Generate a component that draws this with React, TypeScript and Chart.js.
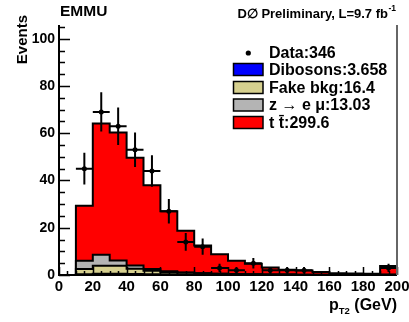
import React, { useEffect, useRef } from 'react';
import { Chart, registerables } from 'chart.js';

Chart.register(...registerables);

// ---- data ----
const binEdges = [10, 20, 30, 40, 50, 60, 70, 80, 90, 100, 110, 120, 130, 140, 150, 160, 170, 180, 190, 200];
const dibosons = [0.3, 0.5, 0.5, 0.45, 0.35, 0.3, 0.25, 0.2, 0.15, 0.12, 0.1, 0.08, 0.07, 0.05, 0.04, 0.03, 0.03, 0.02, 0.12];
const fakeBkg = [2.2, 3.4, 3.4, 2.2, 1.5, 1.0, 0.7, 0.5, 0.4, 0.3, 0.2, 0.15, 0.1, 0.1, 0.08, 0.06, 0.05, 0.05, 0.01];
const zToEmu = [3.5, 4.7, 2.2, 1.4, 0.7, 0.3, 0.1, 0.05, 0.03, 0.02, 0.01, 0.01, 0, 0, 0, 0, 0, 0, 0.01];
const ttbar = [23.3, 55.5, 54.2, 45.6, 35.4, 25.4, 17.7, 11.7, 8.2, 5.6, 4.4, 2.9, 2.0, 1.8, 1.1, 0.7, 0.6, 0.5, 3.7];
const dataCounts = [45, 69, 63, 53, 44, 27, 14, 12, 3, 2, 5, 2, 2, 2, 0, 0, 0, 0, 3];
const xTickValues = [0, 20, 40, 60, 80, 100, 120, 140, 160, 180, 200];
const yTickValues = [0, 20, 40, 60, 80, 100];
const legendLabels = ['Data:346', 'Dibosons:3.658', 'Fake bkg:16.4', 'z \u2192 e \u03bc:13.03', 't t\u0304:299.6'];
const channelTitle = 'EMMU';
const expTitle = 'D\u2205 Preliminary, L=9.7 fb';
const expTitleSup = '-1';
const yTitle = 'Events';

// ---- styles ----
const FONT = '"Liberation Sans", Arial, Helvetica, sans-serif';
const COLORS = { diboson: '#0000ff', fake: '#d6d08f', z: '#b4b4b4', tt: '#ff0000' };
const X_MIN = 0, X_MAX = 200, Y_MIN = 0, Y_MAX = 105.8;

function cumulative(...series: number[][]): number[] {
  return series[0].map((_, i) => series.reduce((s, arr) => s + arr[i], 0));
}

function stepPoints(vals: number[]) {
  const pts: { x: number; y: number }[] = [{ x: binEdges[0], y: 0 }];
  vals.forEach((v, i) => {
    pts.push({ x: binEdges[i], y: v });
    pts.push({ x: binEdges[i + 1], y: v });
  });
  pts.push({ x: binEdges[binEdges.length - 1], y: 0 });
  return pts;
}

const centers = dataCounts.map((_, i) => (binEdges[i] + binEdges[i + 1]) / 2);

const decorPlugin = {
  id: 'decor',
  afterDatasetsDraw(chart: any) {
    const { ctx, chartArea } = chart;
    const xs = chart.scales.x;
    const ys = chart.scales.y;
    ctx.save();
    // error bars
    ctx.strokeStyle = '#000';
    ctx.lineWidth = 2;
    dataCounts.forEach((n, i) => {
      if (n <= 0) return;
      const err = Math.sqrt(n);
      const px = xs.getPixelForValue(centers[i]);
      const py = ys.getPixelForValue(n);
      ctx.beginPath();
      ctx.moveTo(px, ys.getPixelForValue(Math.max(0, n - err)));
      ctx.lineTo(px, ys.getPixelForValue(n + err));
      ctx.moveTo(xs.getPixelForValue(binEdges[i]), py);
      ctx.lineTo(xs.getPixelForValue(binEdges[i + 1]), py);
      ctx.stroke();
    });
    // axis ticks (inward)
    ctx.strokeStyle = '#000';
    ctx.lineWidth = 1.5;
    ctx.beginPath();
    for (let v = Y_MIN; v <= Y_MAX; v += 5) {
      const py = Math.round(ys.getPixelForValue(v)) + 0.5;
      const len = v % 20 === 0 ? 11 : 6;
      ctx.moveTo(chartArea.left, py);
      ctx.lineTo(chartArea.left + len, py);
    }
    for (let v = X_MIN; v <= X_MAX; v += 5) {
      const px = Math.round(xs.getPixelForValue(v)) + 0.5;
      const len = v % 20 === 0 ? 8 : 4;
      ctx.moveTo(px, chartArea.bottom);
      ctx.lineTo(px, chartArea.bottom - len);
    }
    ctx.stroke();
    // frame
    ctx.lineWidth = 2;
    ctx.beginPath();
    ctx.moveTo(chartArea.left, chartArea.top);
    ctx.lineTo(chartArea.left, chartArea.bottom);
    ctx.lineTo(chartArea.right, chartArea.bottom);
    ctx.stroke();
    ctx.strokeStyle = '#666';
    ctx.beginPath();
    ctx.moveTo(chartArea.right, chartArea.top);
    ctx.lineTo(chartArea.right, chartArea.bottom);
    ctx.stroke();
    ctx.restore();
  },
  afterDraw(chart: any) {
    const { ctx, chartArea } = chart;
    ctx.save();
    ctx.fillStyle = '#000';
    ctx.textBaseline = 'alphabetic';
    // titles
    ctx.font = `bold 15.5px ${FONT}`;
    ctx.textAlign = 'left';
    ctx.fillText(channelTitle, 60, 15.5);
    ctx.font = `bold 8.5px ${FONT}`;
    const supW = ctx.measureText(expTitleSup).width;
    ctx.textAlign = 'left';
    ctx.fillText(expTitleSup, 396 - supW, 11);
    ctx.font = `bold 13px ${FONT}`;
    ctx.textAlign = 'right';
    ctx.fillText(expTitle, 396 - supW - 0.5, 17.5);

    // y title
    ctx.save();
    ctx.font = `bold 15px ${FONT}`;
    ctx.translate(26.5, 15);
    ctx.rotate(-Math.PI / 2);
    ctx.textAlign = 'right';
    ctx.fillText(yTitle, 0, 0);
    ctx.restore();

    // x title p_T2 (GeV)
    ctx.textAlign = 'left';
    const mainFont = `bold 16px ${FONT}`;
    const subFont = `bold 9.5px ${FONT}`;
    ctx.font = mainFont;
    const wp = ctx.measureText('p').width;
    const wrest = ctx.measureText(' (GeV)').width;
    ctx.font = subFont;
    const wsub = ctx.measureText('T2').width;
    const x0 = chartArea.right - (wp + wsub + wrest);
    ctx.font = mainFont;
    ctx.fillText('p', x0, 309.5);
    ctx.font = subFont;
    ctx.fillText('T2', x0 + wp, 314);
    ctx.font = mainFont;
    ctx.fillText(' (GeV)', x0 + wp + wsub, 309.5);

    // legend
    const rowsY = [53, 69.5, 87.5, 105, 122.5];
    const boxColors = [null, COLORS.diboson, COLORS.fake, COLORS.z, COLORS.tt];
    ctx.font = `bold 16px ${FONT}`;
    ctx.textBaseline = 'middle';
    legendLabels.forEach((lab, i) => {
      const cy = rowsY[i];
      if (boxColors[i] === null) {
        ctx.beginPath();
        ctx.arc(248.3, cy, 2.6, 0, Math.PI * 2);
        ctx.fillStyle = '#000';
        ctx.fill();
      } else {
        ctx.fillStyle = boxColors[i] as string;
        ctx.fillRect(233.5, cy - 6, 29.5, 12);
        ctx.strokeStyle = '#000';
        ctx.lineWidth = 1.5;
        ctx.strokeRect(233.5, cy - 6, 29.5, 12);
      }
      ctx.fillStyle = '#000';
      ctx.fillText(lab, 269, cy + 1);
    });
    ctx.restore();
  },
};

export default function App() {
  const canvasRef = useRef<HTMLCanvasElement | null>(null);

  useEffect(() => {
    if (!canvasRef.current) return;
    const cumDi = dibosons;
    const cumFake = cumulative(dibosons, fakeBkg);
    const cumZ = cumulative(dibosons, fakeBkg, zToEmu);
    const cumTot = cumulative(dibosons, fakeBkg, zToEmu, ttbar);

    const stepDs = (vals: number[], color: string, label: string) => ({
      type: 'line' as const,
      label,
      data: stepPoints(vals),
      borderColor: '#000',
      borderWidth: 2,
      backgroundColor: color,
      fill: 'origin',
      pointRadius: 0,
      tension: 0,
    });

    const chart = new Chart(canvasRef.current, {
      type: 'line',
      data: {
        datasets: [
          {
            label: 'Data',
            data: dataCounts.map((n, i) => ({ x: centers[i], y: n })).filter((p) => p.y > 0),
            showLine: false,
            pointRadius: 2.5,
            pointBackgroundColor: '#000',
            pointBorderColor: '#000',
            pointBorderWidth: 0,
          } as any,
          stepDs(cumDi, COLORS.diboson, 'Dibosons'),
          stepDs(cumFake, COLORS.fake, 'Fake bkg'),
          stepDs(cumZ, COLORS.z, 'z -> e mu'),
          stepDs(cumTot, COLORS.tt, 'ttbar'),
        ],
      },
      options: {
        animation: false,
        responsive: false,
        maintainAspectRatio: false,
        layout: { padding: { left: 0, right: 12, top: 25, bottom: 0 } },
        plugins: {
          legend: { display: false },
          tooltip: { enabled: false },
          filler: { drawTime: 'beforeDatasetDraw' },
        } as any,
        scales: {
          x: {
            type: 'linear',
            min: X_MIN,
            max: X_MAX,
            grid: { display: false, drawTicks: false },
            border: { display: false },
            afterBuildTicks: (s: any) => {
              s.ticks = xTickValues.map((v) => ({ value: v }));
            },
            afterFit: (s: any) => {
              s.height = 47;
              s.paddingLeft = 0;
              s.paddingRight = 0;
            },
            ticks: {
              autoSkip: false,
              maxRotation: 0,
              minRotation: 0,
              padding: 3,
              color: '#000',
              font: { family: FONT, size: 15, weight: 'bold' },
            },
          },
          y: {
            type: 'linear',
            min: Y_MIN,
            max: Y_MAX,
            grid: { display: false, drawTicks: false },
            border: { display: false },
            afterBuildTicks: (s: any) => {
              s.ticks = yTickValues.map((v) => ({ value: v }));
            },
            afterFit: (s: any) => {
              s.width = 59;
              s.paddingTop = 0;
              s.paddingBottom = 0;
            },
            ticks: {
              autoSkip: false,
              padding: 4,
              color: '#000',
              font: { family: FONT, size: 14, weight: 'bold' },
            },
          },
        },
      },
      plugins: [decorPlugin],
    });
    return () => chart.destroy();
  }, []);

  return (
    <div style={{ position: 'fixed', left: 0, top: 0, width: 409, height: 322, background: '#fff' }}>
      <canvas ref={canvasRef} width={409} height={322} style={{ width: 409, height: 322, display: 'block' }} />
    </div>
  );
}
